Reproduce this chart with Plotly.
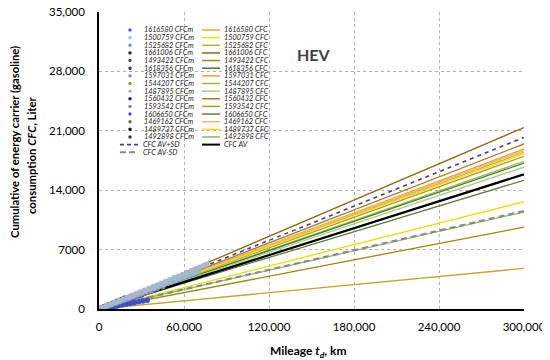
import plotly.graph_objects as go

# ---------------- data ----------------
vehicle_ids = ["1616580", "1500759", "1525682", "1661006", "1493422", "1618356", "1597031",
               "1544207", "1487895", "1560432", "1593542", "1606650", "1469162", "1489737", "1492898"]

# fitted CFC (liters) at 300,000 km for each vehicle (line end values)
cfc_at_300k = [18470, 12640, 17400, 21390, 9650, 17190, 18860,
               4780, 16720, 19450, 18000, 15170, 18670, 18280, 11430]

cfc_av_300k = 15870
cfc_av_plus_sd_300k = 20220
cfc_av_minus_sd_300k = 11550

line_x = [0, 300000]

# measured cumulative consumption (CFCm): mileage (km) and liters
meas_km = [
    [1000, 4000, 7000, 10000, 13000, 16000, 19000, 22000, 25000, 28000, 31000, 33000],
    [2000, 5000, 8000, 11000, 14000, 17000, 20000, 23000, 26000, 29000, 32000, 35000, 38000, 41000, 44000,
     47000, 50000, 53000, 56000, 59000, 62000, 65000, 68000, 71000, 74000, 76000],
    [1500, 4500, 7500, 10500, 13500, 16500, 19500, 22500, 25500, 28500, 31500, 34500, 36000],
    [1000, 4000, 7000, 10000, 13000, 16000, 18000],
    [1000, 4000, 7000, 10000, 13000, 16000, 19000, 22000, 24000],
    [1000, 4000, 7000, 10000, 13000, 16000, 19000, 22000, 25000, 28000, 30000],
    [2000, 5000, 8000, 11000, 14000, 17000, 20000, 23000, 26000, 29000, 32000, 35000, 38000, 40000],
    [1000, 4000, 7000, 10000, 12000],
    [3000, 6000, 9000, 12000, 15000, 18000, 21000, 24000, 27000, 30000, 33000, 36000, 39000, 42000, 45000,
     48000, 51000, 54000, 57000, 60000, 63000, 66000, 70000],
    [1000, 4000, 7000, 10000, 13000, 16000, 19000, 22000],
    [2000, 5000, 8000, 11000, 14000, 17000, 20000, 23000, 26000, 29000, 32000, 35000, 38000, 41000, 45000],
    [1000, 4000, 7000, 10000, 13000, 16000, 19000, 22000, 25000, 28000, 31000, 34000],
    [1000, 4000, 7000, 10000, 13000, 15000],
    [1000, 4000, 7000, 10000, 13000, 16000, 18000],
    [1000, 4000, 7000, 10000, 13000, 16000],
]
meas_cfc = [
    [60, 250, 430, 620, 810, 990, 1180, 1360, 1550, 1740, 1920, 2050],
    [140, 350, 550, 760, 970, 1180, 1380, 1590, 1800, 2010, 2210, 2420, 2630, 2840, 3040,
     3250, 3460, 3670, 3870, 4080, 4290, 4500, 4700, 4910, 5120, 5260],
    [90, 260, 440, 610, 780, 960, 1130, 1310, 1480, 1650, 1830, 2000, 2090],
    [70, 280, 490, 700, 910, 1120, 1260],
    [35, 140, 245, 350, 455, 560, 665, 770, 840],
    [56, 224, 392, 560, 728, 896, 1064, 1232, 1400, 1570, 1680],
    [128, 320, 512, 704, 896, 1090, 1280, 1470, 1660, 1860, 2050, 2240, 2430, 2560],
    [20, 80, 140, 200, 240],
    [180, 370, 560, 750, 940, 1130, 1320, 1510, 1700, 1890, 2080, 2270, 2460, 2650, 2840,
     3020, 3210, 3400, 3590, 3780, 3970, 4160, 4410],
    [64, 256, 448, 640, 832, 1024, 1216, 1408],
    [116, 290, 464, 638, 812, 986, 1160, 1334, 1508, 1682, 1856, 2030, 2204, 2378, 2610],
    [30, 120, 210, 300, 390, 480, 570, 660, 750, 840, 930, 1020],
    [62, 248, 434, 620, 806, 930],
    [60, 240, 420, 600, 780, 960, 1080],
    [38, 152, 266, 380, 494, 608],
]

y_tickvals = [0, 7000, 14000, 21000, 28000, 35000]
y_ticktext = ["0", "7000", "14,000", "21,000", "28,000", "35,000"]
x_tickvals = [0, 60000, 120000, 180000, 240000, 300000]
x_ticktext = ["0", "60,000", "120,000", "180,000", "240,000", "300,000"]

# ---------------- styles ----------------
line_colors = ["#d8b030", "#e4e200", "#9cc040", "#8b6914", "#9a8a10", "#4a7a30", "#eba040",
               "#c0a830", "#a8cc84", "#b07820", "#b0a020", "#5e8040", "#f0b868", "#f0e020", "#8fb868"]
marker_colors = ["#5555cc", "#a8b8c8", "#6a88e0", "#1c1c5c", "#50505c", "#28388e", "#8080e0",
                 "#a09040", "#94b4e4", "#182070", "#80808c", "#4050c4", "#806040", "#101010", "#303828"]
# drawing order of measured series (dark first, light on top)
marker_draw_order = [13, 14, 3, 9, 4, 12, 7, 5, 11, 0, 2, 10, 6, 8, 1]
AVSD_PLUS_COLOR = "#4b3a96"
AVSD_MINUS_COLOR = "#8a8a8a"

FONT = "Lato"

fig = go.Figure()

for vid, end, col in zip(vehicle_ids, cfc_at_300k, line_colors):
    fig.add_trace(go.Scatter(x=line_x, y=[0, end], mode="lines",
                             line=dict(color=col, width=1.3), name=vid + " CFC", showlegend=False))

fig.add_trace(go.Scatter(x=line_x, y=[0, cfc_av_minus_sd_300k], mode="lines",
                         line=dict(color=AVSD_MINUS_COLOR, width=2.2, dash="6px,4px"),
                         name="CFC AV-SD", showlegend=False))
fig.add_trace(go.Scatter(x=line_x, y=[0, cfc_av_plus_sd_300k], mode="lines",
                         line=dict(color=AVSD_PLUS_COLOR, width=1.6, dash="4px,4px"),
                         name="CFC AV+SD", showlegend=False))
fig.add_trace(go.Scatter(x=line_x, y=[0, cfc_av_300k], mode="lines",
                         line=dict(color="#000000", width=2.2), name="CFC AV", showlegend=False))

for i in marker_draw_order:
    fig.add_trace(go.Scatter(x=meas_km[i], y=meas_cfc[i], mode="markers",
                             marker=dict(color=marker_colors[i], size=5.5, line=dict(width=0)),
                             name=vehicle_ids[i] + " CFCm", showlegend=False))

# ---------------- layout geometry (screen pixels; page body has an 8 px margin) ----------------
OFF = 8
FIG_W, FIG_H = 550 - OFF, 360 - OFF
L, R, T, B = 99, 524, 12, 309          # plot area in screen pixels
W, H = R - L, B - T


def px(x):
    return (x - L) / W


def py(y):
    return (B - y) / H


row0, dy = 30, 7.64
leg_font = dict(family=FONT, size=7.3, color="#222222")
shapes = []
annotations = []
for i, vid in enumerate(vehicle_ids):
    yy = row0 + dy * i
    shapes.append(dict(type="circle", xref="paper", yref="paper",
                       x0=px(128.3), x1=px(131.7), y0=py(yy + 1.7), y1=py(yy - 1.7),
                       fillcolor=marker_colors[i], line=dict(width=0)))
    annotations.append(dict(x=px(142), y=py(yy), xref="paper", yref="paper", xanchor="left",
                            yanchor="middle", showarrow=False, text="<i>%s CFCm</i>" % vid, font=leg_font))
    shapes.append(dict(type="line", xref="paper", yref="paper", x0=px(202), x1=px(220),
                       y0=py(yy), y1=py(yy), line=dict(color=line_colors[i], width=1.5)))
    annotations.append(dict(x=px(222), y=py(yy), xref="paper", yref="paper", xanchor="left",
                            yanchor="middle", showarrow=False, text="<i>%s CFC</i>" % vid, font=leg_font))

y15 = row0 + dy * 15
y16 = row0 + dy * 16
shapes.append(dict(type="line", xref="paper", yref="paper", x0=px(120), x1=px(138), y0=py(y15), y1=py(y15),
                   line=dict(color=AVSD_PLUS_COLOR, width=1.6, dash="4px,3px")))
annotations.append(dict(x=px(141), y=py(y15), xref="paper", yref="paper", xanchor="left", yanchor="middle",
                        showarrow=False, text="<i>CFC AV+SD</i>", font=leg_font))
shapes.append(dict(type="line", xref="paper", yref="paper", x0=px(120), x1=px(138), y0=py(y16), y1=py(y16),
                   line=dict(color=AVSD_MINUS_COLOR, width=2, dash="6px,3px")))
annotations.append(dict(x=px(141), y=py(y16), xref="paper", yref="paper", xanchor="left", yanchor="middle",
                        showarrow=False, text="<i>CFC AV-SD</i>", font=leg_font))
shapes.append(dict(type="line", xref="paper", yref="paper", x0=px(202), x1=px(220), y0=py(y15), y1=py(y15),
                   line=dict(color="#000000", width=2)))
annotations.append(dict(x=px(222), y=py(y15), xref="paper", yref="paper", xanchor="left", yanchor="middle",
                        showarrow=False, text="<i>CFC AV</i>", font=leg_font))

# HEV label
annotations.append(dict(x=px(314), y=py(43), xref="paper", yref="paper", showarrow=False,
                        text="<b>HEV</b>", font=dict(family=FONT, size=16, color="#404040")))

# y-axis title (two lines)
ytitle_font = dict(family=FONT, size=11.3, color="#000000")
annotations.append(dict(x=px(14), y=py(142), xref="paper", yref="paper", showarrow=False, textangle=-90,
                        xanchor="center", yanchor="middle",
                        text="<b>Cumulative of energy carrier (gasoline)</b>", font=ytitle_font))
annotations.append(dict(x=px(31), y=py(156), xref="paper", yref="paper", showarrow=False, textangle=-90,
                        xanchor="center", yanchor="middle",
                        text="<b>consumption <i>CFC</i>, Liter</b>", font=ytitle_font))
# x-axis title
annotations.append(dict(x=px(308), y=py(351), xref="paper", yref="paper", showarrow=False,
                        xanchor="center", yanchor="middle",
                        text="<b>Mileage <i>t<sub>d</sub></i>, km</b>",
                        font=dict(family=FONT, size=12, color="#000000")))

fig.update_layout(
    width=FIG_W, height=FIG_H,
    margin=dict(l=L - OFF, r=550 - R, t=T - OFF, b=360 - B, autoexpand=False),
    paper_bgcolor="white", plot_bgcolor="white",
    showlegend=False,
    shapes=shapes,
    annotations=annotations,
    font=dict(family=FONT, size=11.5, color="#000000"),
)

fig.update_xaxes(
    range=[0, 300000], tickvals=x_tickvals, ticktext=x_ticktext, automargin=False,
    showgrid=True, gridcolor="#b0b0b0", griddash="dot", gridwidth=1,
    showline=True, linecolor="#000000", linewidth=1.5, zeroline=False,
    ticks="", ticklabelstandoff=6, ticklabeloverflow="allow",
)
fig.update_yaxes(
    range=[0, 35000], tickvals=y_tickvals, ticktext=y_ticktext, automargin=False,
    showgrid=True, gridcolor="#b0b0b0", griddash="dot", gridwidth=1,
    showline=True, linecolor="#000000", linewidth=1.5, zeroline=False,
    ticks="", ticklabelstandoff=10, ticklabeloverflow="allow",
)

fig.write_html("out.html")
